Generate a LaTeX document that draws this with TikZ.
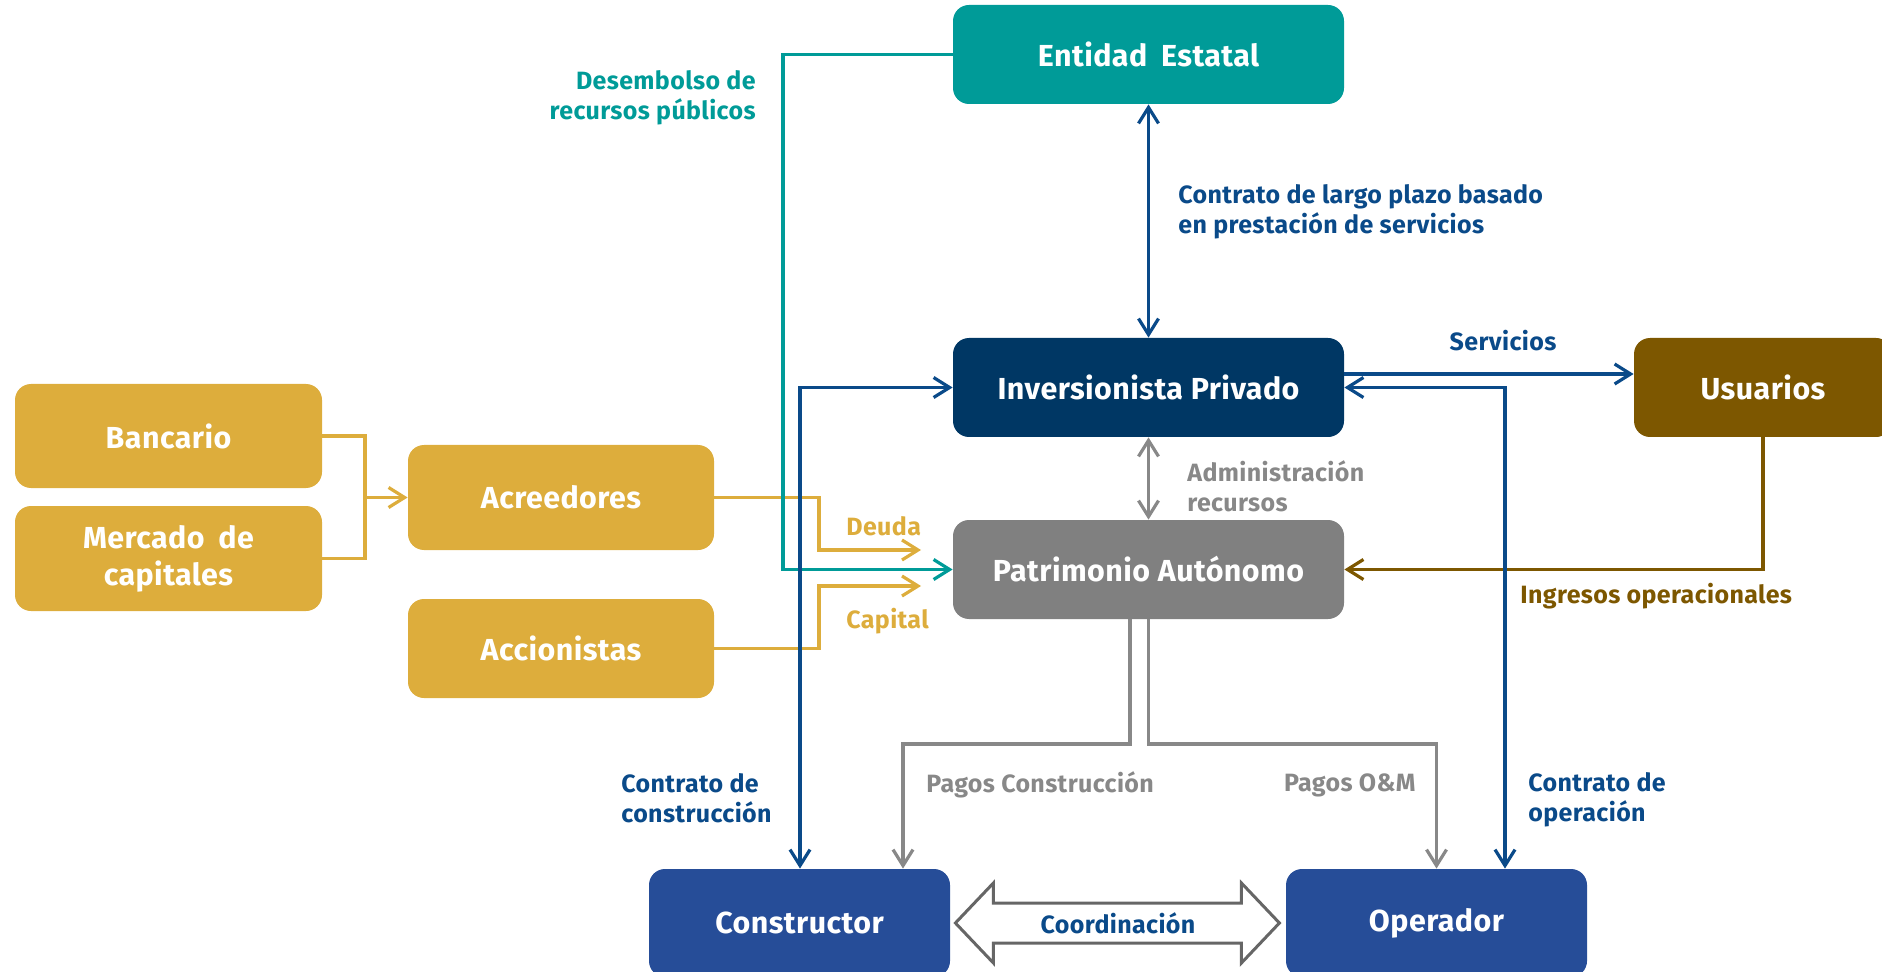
\documentclass[tikz,border=0pt]{standalone}
\usepackage{fontspec}
\setmainfont{Fira Sans}[LetterSpace=1.5]
\usetikzlibrary{arrows.meta,calc}
\definecolor{cTeal}{HTML}{009B98}
\definecolor{cNavy}{HTML}{003764}
\definecolor{cBrown}{HTML}{7D5700}
\definecolor{cGrayBox}{HTML}{808080}
\definecolor{cGold}{HTML}{DDAD3C}
\definecolor{cBlue}{HTML}{264D98}
\definecolor{cLine}{HTML}{0A4A89}
\definecolor{cGrayLine}{HTML}{888888}
\tikzset{
  >={Straight Barb[length=8pt,width=10pt]},
  box/.style={rectangle, rounded corners=8pt, inner sep=0pt, text=white,
    font=\bfseries\fontsize{15.2}{18.5}\selectfont, align=center},
  lbl/.style={font=\bfseries\fontsize{12.5}{15}\selectfont, inner sep=0pt},
  conn/.style={line width=1.6pt},
}
\begin{document}
\begin{tikzpicture}[x=0.5pt,y=-0.5pt]
\useasboundingbox (0,0) rectangle (1882,972);
% boxes
\node[box, fill=cTeal, minimum width=195.5pt, minimum height=49.5pt] (ent) at (1148.5,54.5) {Entidad\hspace{0.2em} Estatal};
\node[box, fill=cNavy, minimum width=195.5pt, minimum height=49.5pt] (inv) at (1148.5,387.5) {Inversionista Privado};
\node[box, fill=cBrown, minimum width=129pt, minimum height=49.5pt] (usu) at (1763,387.5) {Usuarios};
\node[box, fill=cGrayBox, minimum width=195.5pt, minimum height=49.5pt] (pat) at (1148.5,569.5) {Patrimonio Autónomo};
\node[box, fill=cGold, minimum width=153.5pt, minimum height=52pt] (ban) at (168.5,436) {Bancario};
\node[box, fill=cGold, minimum width=153.5pt, minimum height=52.5pt] (mer) at (168.5,558.5) {Mercado\hspace{0.2em} de\\capitales};
\node[box, fill=cGold, minimum width=153pt, minimum height=52.5pt] (acr) at (561,497.5) {Acreedores};
\node[box, fill=cGold, minimum width=153pt, minimum height=49.5pt] (acc) at (561,648.5) {Accionistas};
\node[box, fill=cBlue, minimum width=150.5pt, minimum height=54pt] (con) at (799.5,923) {Constructor};
\node[box, fill=cBlue, minimum width=150.5pt, minimum height=54pt] (ope) at (1436.5,923) {Operador};
% helper coordinates
\coordinate (bm) at (365,0);
\coordinate (dx) at (819,0);
\coordinate (dtip) at (921,550);
\coordinate (ctip) at (921,586);
\coordinate (de) at (783,0);
\coordinate (cc) at (800,0);
\coordinate (ct) at (1505,0);
\coordinate (sv) at (0,374);
\coordinate (pc1) at (1130,744);
\coordinate (pcx) at (903,744);
\coordinate (ph) at (0,744);
% gold connectors
\draw[conn, cGold] (ban.east) -- (ban.east -| bm) -- (mer.east -| bm) -- (mer.east);
\draw[conn, cGold, ->] (acr.west -| bm) -- (acr.west);
\draw[conn, cGold, ->] (acr.east) -- (acr.east -| dx) -- (dx |- dtip) -- (dtip);
\draw[conn, cGold, ->] (acc.east) -- (acc.east -| dx) -- (dx |- ctip) -- (ctip);
% gray connectors
\draw[conn, cGrayLine, <->] (inv.south) -- (pat.north);
\draw[conn, cGrayLine, ->] (pc1 |- pat.south) -- (pc1) -- (pcx) -- (pcx |- con.north);
\draw[conn, cGrayLine, ->] (pat.south) -- (pat.south |- ph) -- (ope.north |- ph) -- (ope.north);
% brown
\draw[conn, cBrown, ->] (usu.south) -- (usu.south |- pat.east) -- (pat.east);
% teal
\draw[conn, cTeal, ->] (ent.west) -- (ent.west -| de) -- (pat.west -| de) -- (pat.west);
% blue
\draw[conn, cLine, <->] (ent.south) -- (inv.north);
\draw[conn, cLine, ->] (inv.east |- sv) -- (usu.west |- sv);
\draw[conn, cLine, <->] (inv.west) -- (inv.west -| cc) -- (cc |- con.north);
\draw[conn, cLine, <->] (inv.east) -- (inv.east -| ct) -- (ct |- ope.north);
% coordination arrow
\draw[line width=1.5pt, draw=gray!80!black, fill=white, line join=miter]
  ($(con.east)+(5,0)$) -- ++(38,-40) -- ++(0,20) -- ++(248,0) -- ++(0,-20) -- ++(38,40)
  -- ++(-38,40) -- ++(0,-20) -- ++(-248,0) -- ++(0,20) -- cycle;
\node[lbl, text=cLine] (coo) at ($(con.east)!0.5!(ope.west)$) {Coordinación};
% labels
\node[lbl, text=cTeal, anchor=east, align=right] (l1) at (756,98) {Desembolso de\\recursos públicos};
\node[lbl, text=cLine, anchor=west, align=left] (l2) at (1178,212) {Contrato de largo plazo basado\\en prestación de servicios};
\node[lbl, text=cLine] (l3) at (1503,341) {Servicios};
\node[lbl, text=cGrayLine, anchor=west, align=left] (l4) at (1187,486) {Administración\\recursos};
\node[lbl, text=cGold, anchor=west] (l5) at (846,526) {Deuda};
\node[lbl, text=cGold, anchor=west] (l6) at (846,621) {Capital};
\node[lbl, text=cBrown, anchor=west] (l7) at (1520,596) {Ingresos operacionales};
\node[lbl, text=cLine, anchor=west, align=left] (l8) at (621,798) {Contrato de\\construcción};
\node[lbl, text=cGrayLine, anchor=west] (l9) at (926,785) {Pagos Construcción};
\node[lbl, text=cGrayLine, anchor=east] (l10) at (1416,785) {Pagos O\&M};
\node[lbl, text=cLine, anchor=west, align=left] (l11) at (1528,800) {Contrato de\\operación};
\end{tikzpicture}
\end{document}
